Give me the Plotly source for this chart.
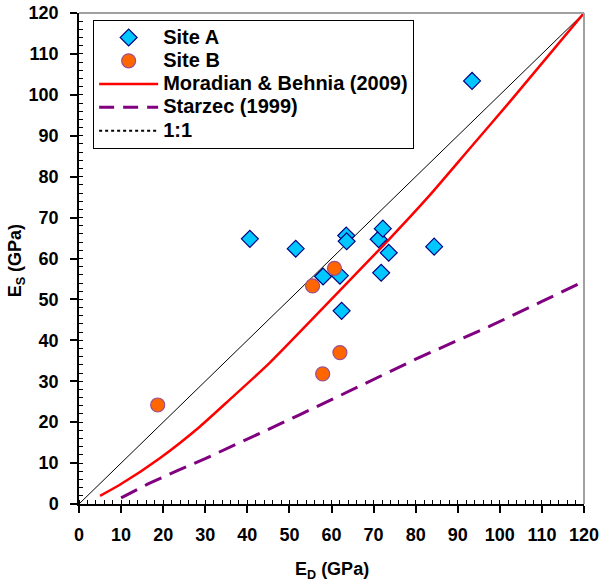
import plotly.graph_objects as go

# Site A (diamonds)
site_a_ed = [40.6, 51.5, 58.0, 62.0, 63.5, 63.6, 71.2, 72.2, 73.6, 71.8, 62.4, 84.4, 93.4]
site_a_es = [64.8, 62.4, 55.6, 55.8, 65.6, 64.2, 64.7, 67.3, 61.4, 56.5, 47.2, 62.9, 103.4]

# Site B (circles)
site_b_ed = [18.7, 55.5, 60.7, 62.0, 57.9]
site_b_es = [24.2, 53.3, 57.6, 37.0, 31.8]

# Moradian & Behnia (2009)
mor_ed = [5, 9.7, 19.2, 28.7, 35.8, 45.3, 60.7, 73.7, 83.2, 92.7, 102.2, 120]
mor_es = [2.0, 4.7, 11.2, 18.9, 25.5, 34.5, 50.8, 64.7, 75.3, 86.7, 98.1, 120.0]

# Starzec (1999)
sta_ed = [10, 13.7, 16.4, 23.5, 30, 38.2, 43.7, 52.4, 60, 71.4, 80, 90, 97.5, 110, 120]
sta_es = [1.5, 3.4, 4.9, 8.2, 11.1, 15.0, 17.7, 21.8, 25.5, 31.2, 35.4, 40.0, 43.4, 49.5, 54.4]

# 1:1 line
one_ed = [0, 120]
one_es = [0, 120]

x_ticks = list(range(0, 121, 10))
y_ticks = list(range(0, 121, 10))

legend_names = ["Site A", "Site B", "Moradian & Behnia (2009)", "Starzec (1999)", "1:1"]

FONT = "Liberation Sans, Arial, sans-serif"


def lg(name):
    return '<span style="font-size:20px">' + name + '</span>'


fig = go.Figure()

fig.add_trace(go.Scatter(x=one_ed, y=one_es, mode="lines",
                         line=dict(color="black", width=1), showlegend=False,
                         hoverinfo="skip"))
fig.add_trace(go.Scatter(x=sta_ed, y=sta_es, mode="lines", name=legend_names[3],
                         line=dict(color="#800080", width=3, dash="18px,9px"),
                         showlegend=False))
fig.add_trace(go.Scatter(x=mor_ed, y=mor_es, mode="lines", name=legend_names[2],
                         line=dict(color="#FF0000", width=2.5, shape="spline", smoothing=0.6),
                         showlegend=False))
fig.add_trace(go.Scatter(x=site_a_ed, y=site_a_es, mode="markers", name=lg(legend_names[0]),
                         marker=dict(symbol="diamond", size=13, color="#00C8FF",
                                     line=dict(color="#000080", width=1.2))))
fig.add_trace(go.Scatter(x=site_b_ed, y=site_b_es, mode="markers", name=lg(legend_names[1]),
                         marker=dict(symbol="circle", size=14, color="#FF6600",
                                     line=dict(color="#9B4F8F", width=1.2))))

# legend-only entries
fig.add_trace(go.Scatter(x=[None], y=[None], mode="lines", name=lg(legend_names[2]),
                         line=dict(color="#FF0000", width=2.5)))
fig.add_trace(go.Scatter(x=[None], y=[None], mode="lines", name=lg(legend_names[3]),
                         line=dict(color="#800080", width=3, dash="15px,9px")))
fig.add_trace(go.Scatter(x=[None], y=[None], mode="lines", name=lg(legend_names[4]),
                         line=dict(color="black", width=2, dash="3px,3px")))

fig.update_layout(
    width=601, height=584,
    margin=dict(l=79, r=17, t=13, b=80, autoexpand=False),
    paper_bgcolor="white", plot_bgcolor="white",
    font=dict(family=FONT, size=18, color="black"),
    showlegend=True,
    legend=dict(x=0.028, y=0.986, xanchor="left", yanchor="top",
                bgcolor="white", bordercolor="black", borderwidth=1,
                font=dict(family=FONT, size=15.6, color="black", weight="bold"),
                tracegroupgap=0, itemwidth=59),
    xaxis=dict(range=[0, 120], tickvals=x_ticks, ticktext=[str(v) for v in x_ticks],
               automargin=False,
               showgrid=False, zeroline=False, showline=True, linecolor="black", linewidth=1.5,
               mirror=False, ticks="outside", ticklen=7, tickwidth=1.5, tickcolor="black",
               ticklabelstandoff=7,
               tickfont=dict(family=FONT, size=18, weight="bold"),
               minor=dict(dtick=2, ticks="inside", ticklen=4, tickcolor="black", tickwidth=1)),
    yaxis=dict(range=[0, 120], tickvals=y_ticks, ticktext=[str(v) for v in y_ticks],
               automargin=False,
               showgrid=False, zeroline=False, showline=True, linecolor="black", linewidth=1.5,
               mirror=False, ticks="outside", ticklen=7, tickwidth=1.5, tickcolor="black",
               ticklabelstandoff=8,
               tickfont=dict(family=FONT, size=18, weight="bold"),
               minor=dict(dtick=2, ticks="inside", ticklen=4, tickcolor="black", tickwidth=1)),
)

fig.add_annotation(text="<b>E<sub>D</sub> (GPa)</b>", xref="paper", yref="paper",
                   x=0.5, y=-0.135, xanchor="center", yanchor="middle", showarrow=False,
                   font=dict(family=FONT, size=18, color="black"))
fig.add_annotation(text="<b>E<sub>S</sub> (GPa)</b>", xref="paper", yref="paper",
                   x=-0.122, y=0.495, xanchor="center", yanchor="middle", showarrow=False,
                   textangle=-90, font=dict(family=FONT, size=18, color="black"))

# gray top/right frame of the plot area
fig.add_shape(type="line", xref="paper", yref="paper", x0=0, x1=1, y0=1, y1=1,
              line=dict(color="#A0A0A0", width=2), layer="above")
fig.add_shape(type="line", xref="paper", yref="paper", x0=1, x1=1, y0=0, y1=1,
              line=dict(color="#A0A0A0", width=2), layer="above")

fig.write_html("out.html", config={"displayModeBar": False},
               post_script="document.body.style.margin='0';document.body.style.overflow='hidden';")
